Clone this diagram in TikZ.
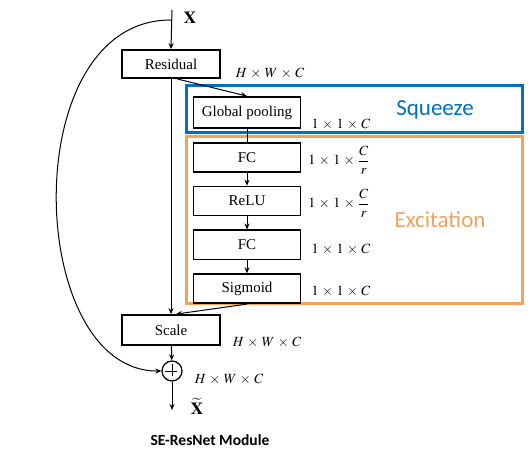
\documentclass[tikz,border=0pt]{standalone}
\usepackage{amsmath}
\usepackage{mathptmx}
\usepackage{fontspec}
\setmainfont{Liberation Serif}
\newfontfamily\labelfont{Carlito}
\usepackage{tikz}
\usetikzlibrary{arrows.meta, positioning}
\definecolor{sqblue}{RGB}{0,112,192}
\definecolor{exorange}{RGB}{241,162,92}
\newcommand{\tms}{\,\times\,}
\tikzset{
  opbox/.style={rectangle, draw=black, line width=1.8pt, minimum width=98pt,
    minimum height=28pt, inner sep=0pt, font=\fontsize{15}{18}\selectfont},
  sebox/.style={opbox, minimum width=107pt, minimum height=29pt},
  dimlabel/.style={font=\fontsize{14}{16}\selectfont, inner sep=0pt},
  arrow/.style={-{Stealth[length=6pt, width=5pt]}, line width=1pt},
  line/.style={line width=1pt}
}
\begin{document}
\begin{tikzpicture}[x=1pt, y=-1pt, node distance=13pt,
  sqframe/.style={rectangle, draw=sqblue, line width=3pt, minimum width=336pt, minimum height=47pt, inner sep=0pt},
  exframe/.style={rectangle, draw=exorange, line width=3pt, minimum width=336pt, minimum height=166pt, inner sep=0pt}]
  \useasboundingbox (0,0) rectangle (530,465);

  % Frames
  \node[sqframe] (sqbox) at (354,109.5) {};
  \node[exframe] (exbox) at (354,220) {};
  \node[font=\labelfont\fontsize{23}{26}\selectfont, text=sqblue] (sqtext) at (435,110) {Squeeze};
  \node[font=\labelfont\fontsize{23}{26}\selectfont, text=exorange] (extext) at (440,220) {Excitation};

  % Main path
  \coordinate (xin) at (172,10);
  \coordinate (split) at (172,20);
  \node[font=\fontsize{17}{20}\selectfont] (xlabel) at (190,18) {$\mathbf{X}$};
  \node[opbox] (residual) at (171,64) {Residual};
  \node[opbox, minimum height=30pt] (scale) at (171,330) {Scale};
  \node[circle, draw, line width=1.2pt, minimum size=20pt, inner sep=0pt] (plus) at (172,371) {};
  \draw[line width=1pt] (plus.north) ++(0,4) -- ++(0,12) (plus.west) ++(4,0) -- ++(12,0);
  \coordinate (xout) at (172,410);
  \node[font=\fontsize{17}{20}\selectfont, inner sep=0pt] (xtilde) at (197,406) {$\widetilde{\mathbf{X}}$};

  % SE branch
  \node[sebox, minimum height=31pt] (pool) at (247,112.5) {Global pooling};
  \node[sebox, below=of pool] (fca) {FC};
  \node[sebox, below=of fca] (relu) {ReLU};
  \node[sebox, below=of relu] (fcb) {FC};
  \node[sebox, below=of fcb] (sigm) {Sigmoid};

  % Dimension labels
  \node[dimlabel] (dres) at (270,73) {$H\tms W\tms C$};
  \node[dimlabel] (dpool) at (341,124) {$1\tms 1\tms C$};
  \node[dimlabel] (dfca) at (339,160) {$1\tms 1\tms \dfrac{C}{r}$};
  \node[dimlabel] (drelu) at (339,203) {$1\tms 1\tms \dfrac{C}{r}$};
  \node[dimlabel] (dfcb) at (341,249) {$1\tms 1\tms C$};
  \node[dimlabel] (dsigm) at (341,291) {$1\tms 1\tms C$};
  \node[dimlabel] (dscale) at (267,342) {$H\tms W\tms C$};
  \node[dimlabel] (dplus) at (229,379) {$H\tms W\tms C$};

  % Caption
  \node[font=\labelfont\bfseries\fontsize{15.5}{18}\selectfont] (caption) at (210,440) {SE-ResNet Module};

  % Connections
  \draw[arrow] (xin) -- (residual.north);
  \draw[arrow] (split) .. controls (15,18) and (25,372) .. (plus.west);
  \draw[arrow] (residual.south) -- (scale.north);
  \draw[arrow] ([xshift=6pt]residual.south) -- (pool.north);
  \draw[line] (pool.south) -- (fca.north);
  \draw[arrow] (fca) -- (relu);
  \draw[arrow] (relu) -- (fcb);
  \draw[arrow] (fcb) -- (sigm);
  \draw[arrow] (sigm.south) -- ([xshift=5pt]scale.north);
  \draw[arrow] (scale) -- (plus);
  \draw[arrow] (plus) -- (xout);

\end{tikzpicture}
\end{document}
